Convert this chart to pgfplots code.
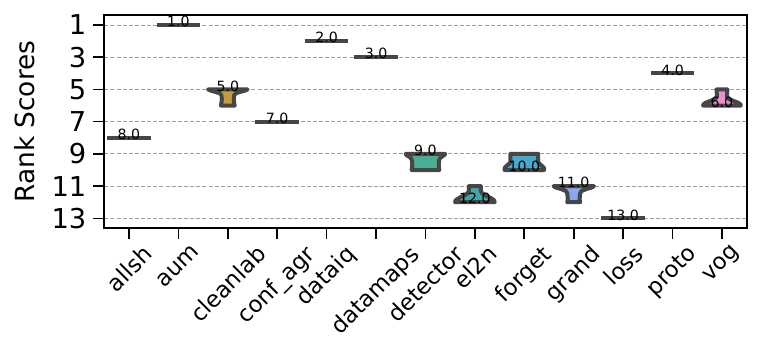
\documentclass[border=0pt]{standalone}
\usepackage{fontspec}
\setmainfont{DejaVu Sans}
\usepackage{graphicx}
\usepackage{pgfplots}
\pgfplotsset{compat=1.18}
\definecolor{edgec}{HTML}{464646}
\definecolor{cclean}{HTML}{C49A40}
\definecolor{cdet}{HTML}{4AAE95}
\definecolor{cel}{HTML}{3DA8A5}
\definecolor{cforget}{HTML}{49A8CB}
\definecolor{cgrand}{HTML}{8AA7EF}
\definecolor{cvog}{HTML}{EA8FD1}
\newcommand{\rl}[1]{\rotatebox{45}{#1}}
\begin{document}
\begin{tikzpicture}
\useasboundingbox (-78.2pt,-84.5pt) rectangle ++(570.75pt,255.75pt);
\begin{axis}[
  at={(0,0)}, anchor=south west,
  scale only axis,
  width=481.8pt, height=160pt,
  xmin=-0.5, xmax=12.5,
  ymin=0.38, ymax=13.62,
  y dir=reverse,
  xtick={0,...,12},
  xticklabels={\rl{allsh},\rl{aum},\rl{cleanlab},\rl{conf\_agr},\rl{dataiq},\rl{datamaps},\rl{detector},\rl{el2n},\rl{forget},\rl{grand},\rl{loss},\rl{proto},\rl{vog}},
  ytick={1,3,5,7,9,11,13},
  /pgf/number format/assume math mode=true,
  tick align=outside,
  major tick length=8.25pt,
  tick style={line width=1.2pt, black},
  xtick pos=bottom, ytick pos=left,
  axis line style={line width=1.4pt, black},
  xticklabel style={font=\fontsize{17}{20}\selectfont, anchor=north, inner sep=0pt, yshift=-3pt},
  yticklabel style={font=\fontsize{20.5}{24}\selectfont, anchor=east, inner sep=0pt, xshift=-5pt},
  ylabel={Rank Scores},
  every axis y label/.style={at={(axis description cs:-0.108,0.5)}, rotate=90, anchor=base, font=\fontsize{19.8}{23}\selectfont},
  ymajorgrids,
  major grid style={gray!75, line width=0.6pt, dash pattern=on 3pt off 1.6pt},
]
% single-value violins (lines)
\addplot[edgec, line width=3pt, line cap=rect] coordinates {(-0.4,8)(0.4,8)};
\addplot[edgec, line width=3pt, line cap=rect] coordinates {(0.6,1)(1.4,1)};
\addplot[edgec, line width=3pt, line cap=rect] coordinates {(2.6,7)(3.4,7)};
\addplot[edgec, line width=3pt, line cap=rect] coordinates {(3.6,2)(4.4,2)};
\addplot[edgec, line width=3pt, line cap=rect] coordinates {(4.6,3)(5.4,3)};
\addplot[edgec, line width=3pt, line cap=rect] coordinates {(9.6,13)(10.4,13)};
\addplot[edgec, line width=3pt, line cap=rect] coordinates {(10.6,4)(11.4,4)};
% cleanlab
\addplot[draw=edgec, line width=3pt, line join=round, fill=cclean] coordinates {
(2.40,5.00)(2.34,5.08)(2.24,5.16)(2.16,5.25)(2.13,5.35)(2.12,5.6)(2.13,5.85)(2.14,6.0)
(1.86,6.0)(1.87,5.85)(1.88,5.6)(1.87,5.35)(1.84,5.25)(1.76,5.16)(1.66,5.08)(1.60,5.00)} -- cycle;
% detector
\addplot[draw=edgec, line width=3pt, line join=round, fill=cdet] coordinates {
(6.40,9.0)(6.38,9.08)(6.33,9.18)(6.29,9.28)(6.27,9.45)(6.27,9.8)(6.28,10.0)
(5.72,10.0)(5.73,9.8)(5.73,9.45)(5.71,9.28)(5.67,9.18)(5.62,9.08)(5.60,9.0)} -- cycle;
% el2n
\addplot[draw=edgec, line width=3pt, line join=round, fill=cel] coordinates {
(7.12,11.0)(7.12,11.3)(7.15,11.45)(7.23,11.6)(7.33,11.75)(7.39,11.88)(7.40,12.0)
(6.60,12.0)(6.61,11.88)(6.67,11.75)(6.77,11.6)(6.85,11.45)(6.88,11.3)(6.88,11.0)} -- cycle;
% forget
\addplot[draw=edgec, line width=3pt, line join=round, fill=cforget] coordinates {
(8.28,9.0)(8.28,9.5)(8.31,9.62)(8.36,9.75)(8.40,9.88)(8.40,10.0)
(7.60,10.0)(7.60,9.88)(7.64,9.75)(7.69,9.62)(7.72,9.5)(7.72,9.0)} -- cycle;
% grand
\addplot[draw=edgec, line width=3pt, line join=round, fill=cgrand] coordinates {
(9.41,11.0)(9.37,11.08)(9.26,11.18)(9.16,11.3)(9.13,11.45)(9.12,11.8)(9.13,12.0)
(8.87,12.0)(8.88,11.8)(8.87,11.45)(8.84,11.3)(8.74,11.18)(8.63,11.08)(8.59,11.0)} -- cycle;
% vog
\addplot[draw=edgec, line width=3pt, line join=round, fill=cvog] coordinates {
(12.11,5.0)(12.10,5.45)(12.14,5.6)(12.24,5.72)(12.34,5.84)(12.38,5.95)(12.38,6.0)
(11.62,6.0)(11.62,5.95)(11.66,5.84)(11.76,5.72)(11.86,5.6)(11.90,5.45)(11.89,5.0)} -- cycle;
% median labels
\addplot[draw=none, mark=none, nodes near coords, point meta=explicit symbolic,
  every node near coord/.style={anchor=base, inner sep=0pt, yshift=-1.3pt, text=black, font=\fontsize{10.6}{12}\selectfont}]
  table[meta=lab] {
x y lab
0 8 8.0
1 1 1.0
2 5 5.0
3 7 7.0
4 2 2.0
5 3 3.0
6 9 9.0
7 12 12.0
8 10 10.0
9 11 11.0
10 13 13.0
11 4 4.0
12 6 6.0
};
\end{axis}
\end{tikzpicture}
\end{document}
